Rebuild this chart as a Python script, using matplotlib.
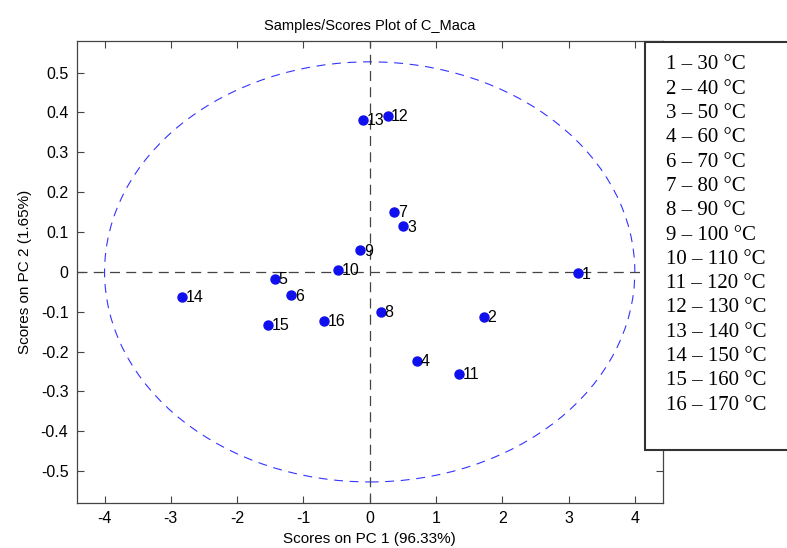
import numpy as np
import matplotlib.pyplot as plt
from matplotlib.patches import Ellipse, Rectangle

# sample scores
labels = ['1', '2', '3', '4', '5', '6', '7', '8', '9', '10', '11', '12', '13', '14', '15', '16']
pc1 = [3.15, 1.72, 0.51, 0.72, -1.43, -1.18, 0.37, 0.166, -0.14, -0.48,
       1.35, 0.27, -0.095, -2.83, -1.53, -0.69]
pc2 = [-0.004, -0.113, 0.114, -0.224, -0.018, -0.059, 0.151, -0.100, 0.054, 0.004,
       -0.255, 0.392, 0.381, -0.062, -0.133, -0.123]
legend_lines = ['1 – 30 °C', '2 – 40 °C', '3 – 50 °C', '4 – 60 °C', '6 – 70 °C',
                '7 – 80 °C', '8 – 90 °C', '9 – 100 °C', '10 – 110 °C', '11 – 120 °C',
                '12 – 130 °C', '13 – 140 °C', '14 – 150 °C', '15 – 160 °C', '16 – 170 °C']
ellipse_w, ellipse_h = 4.0, 0.527

plt.rcParams['font.family'] = ['Liberation Sans', 'DejaVu Sans']
plt.rcParams['axes.unicode_minus'] = False

fig = plt.figure(figsize=(7.87, 5.48), dpi=100)
ax = fig.add_axes([0.0975, 0.0827, 0.7445, 0.8423])

# confidence ellipse and zero lines
ax.add_patch(Ellipse((0, 0), 2 * ellipse_w, 2 * ellipse_h, fill=False,
                     edgecolor='#3333ff', lw=0.8, ls=(0, (8, 6))))
ax.axhline(0, color='#444444', lw=0.9, ls=(0, (8, 5)))
ax.axvline(0, color='#444444', lw=0.9, ls=(0, (8, 5)))

ax.plot(pc1, pc2, 'o', color='#1010ee', markersize=6.5, zorder=3)
for x, y, s in zip(pc1, pc2, labels):
    ax.annotate(s, (x, y), xytext=(2.5, -0.5), textcoords='offset points',
                fontsize=11.5, va='center', ha='left')

ax.set_xlim(-4.42, 4.42)
ax.set_ylim(-0.579, 0.579)
ax.set_xticks(np.arange(-4, 5, 1))
ax.set_yticks(np.round(np.arange(-0.5, 0.51, 0.1), 1))
ax.set_yticklabels(['-0.5', '-0.4', '-0.3', '-0.2', '-0.1', '0',
                    '0.1', '0.2', '0.3', '0.4', '0.5'])
ax.tick_params(direction='in', top=True, right=True, labelsize=11.5, length=5,
               color='#444444', pad=6)
for sp in ax.spines.values():
    sp.set_color('#444444')
    sp.set_linewidth(0.9)

ax.set_xlabel('Scores on PC 1 (96.33%)', fontsize=11, labelpad=4)
ax.set_ylabel('Scores on PC 2 (1.65%)', fontsize=11, labelpad=6)
ax.set_title('Samples/Scores Plot of C_Maca', fontsize=10.5, pad=8)

# legend box with temperature key
box = Rectangle((645 / 787, 1 - 449.7 / 548), 0.25, (449.7 - 41.7) / 548,
                transform=fig.transFigure, facecolor='white', edgecolor='#333333',
                lw=1.5, clip_on=False, zorder=5)
fig.patches.append(box)
for i, t in enumerate(legend_lines):
    fig.text(666 / 787, 1 - (65 + 24.3 * i) / 548, t, fontsize=15,
             family=['Liberation Serif', 'DejaVu Serif'], va='center', ha='left', zorder=6)

fig.savefig('out.png', dpi=100)
